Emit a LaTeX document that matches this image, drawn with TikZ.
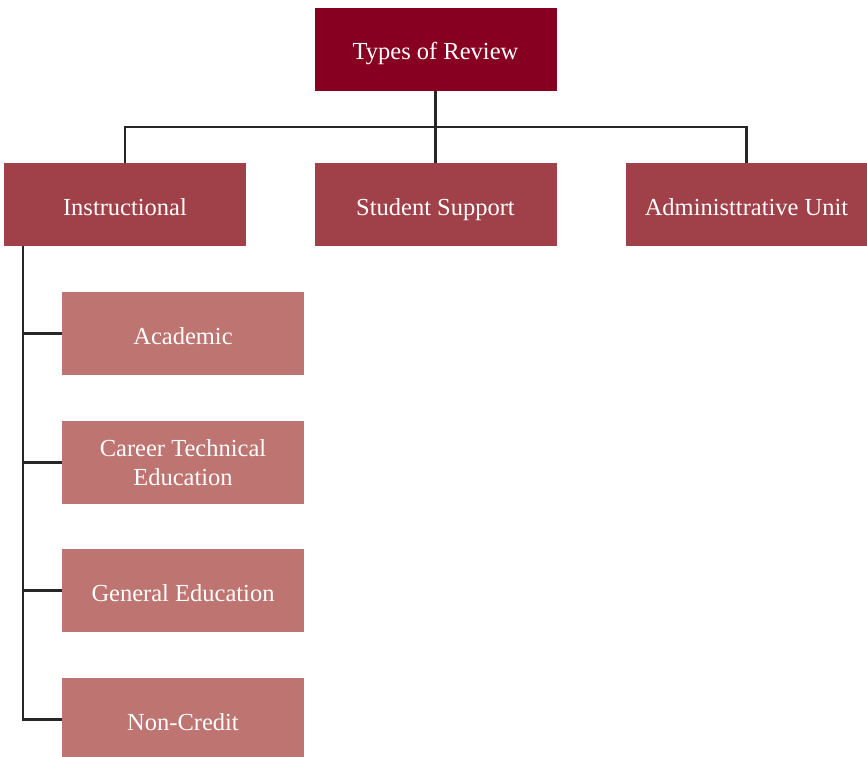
\documentclass[tikz,border=0pt]{standalone}
\usepackage{fontspec}
\setmainfont{Liberation Serif}
\definecolor{topred}{HTML}{870022}
\definecolor{midred}{HTML}{A04048}
\definecolor{lowred}{HTML}{BE7470}
\definecolor{linegray}{HTML}{262626}
\begin{document}
\begin{tikzpicture}[x=1pt,y=-1pt,
	box/.style={minimum width=242pt,minimum height=83pt,inner sep=0pt,
		text=white,align=center,font=\fontsize{24.5}{29}\selectfont},
	oneline/.style={text height=25pt,text depth=4pt},
	toplevel/.style={box,oneline,fill=topred},
	midlevel/.style={box,oneline,fill=midred},
	lowlevel/.style={box,oneline,fill=lowred},
	link/.style={line width=2.4pt,draw=linegray}]

	\useasboundingbox (0,0) rectangle (867,757);

	\node[toplevel] (review) at (435.5,49.5) {Types of Review};

	\node[midlevel] (instr) at (125,204.5) {Instructional};
	\node[midlevel] (support) at (435.5,204.5) {Student Support};
	\node[midlevel] (admin) at (746.5,204.5) {Administtrative Unit};

	\node[lowlevel] (acad) at (183,333.5) {Academic};
	\node[lowlevel,text height=,text depth=] (cte) at (183,462.5) {Career Technical\\Education};
	\node[lowlevel] (gened) at (183,590.5) {General Education};
	\node[lowlevel] (noncr) at (183,719.5) {Non-Credit};

	\coordinate (bus) at (435.5,127);
	\coordinate (spine) at (23,246);

	\draw[link] (review.south) -- (support.north);
	\draw[link] (instr.north) |- (bus) -| (admin.north);

	\draw[link] (spine) |- (noncr.west);
	\draw[link] (spine) |- (acad.west);
	\draw[link] (spine) |- (cte.west);
	\draw[link] (spine) |- (gened.west);
\end{tikzpicture}
\end{document}
